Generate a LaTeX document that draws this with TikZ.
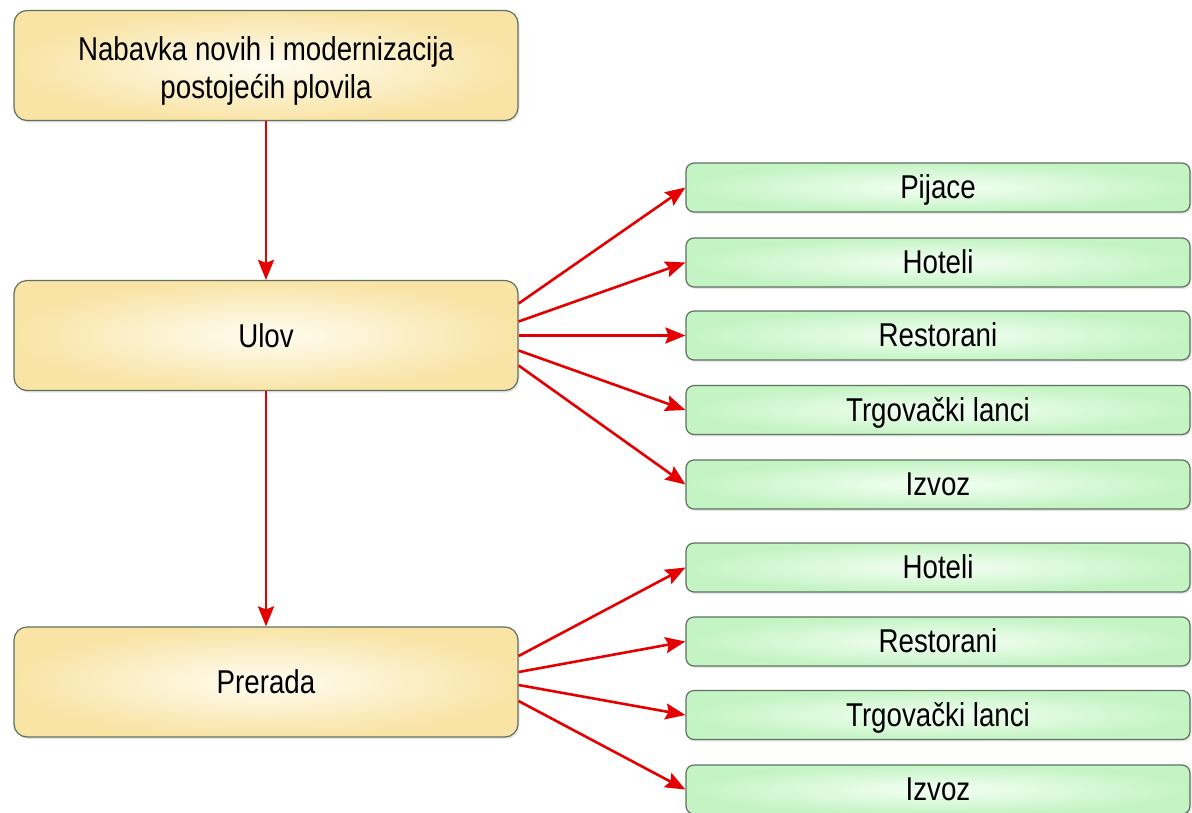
\documentclass[tikz,border=0pt]{standalone}
\usepackage{fontspec}
\setmainfont{Liberation Sans}[FakeStretch=0.84]
\usetikzlibrary{arrows.meta,shadows}
\definecolor{ybox}{HTML}{F9E4A6}
\definecolor{yin}{HTML}{FFFDF2}
\definecolor{gbox}{HTML}{C4F4C4}
\definecolor{gin}{HTML}{F4FFF4}
\definecolor{bord}{HTML}{5E715F}
\definecolor{arr}{HTML}{E40000}
\tikzset{
  ybx/.style={rectangle, rounded corners=13pt, draw=bord, line width=1.2pt,
    shade, shading=radial, inner color=yin, outer color=ybox,
    minimum width=504pt, minimum height=110pt, inner sep=0pt, align=center,
    font=\fontsize{33}{38}\selectfont,
    drop shadow={opacity=0.18, shadow xshift=1.5pt, shadow yshift=-2pt}},
  gbx/.style={rectangle, rounded corners=8pt, draw=bord, line width=1.2pt,
    shade, shading=radial, inner color=gin, outer color=gbox,
    minimum width=504pt, minimum height=49pt, inner sep=0pt,
    text height=23pt, text depth=1pt,
    font=\fontsize{33}{38}\selectfont,
    drop shadow={opacity=0.18, shadow xshift=1.5pt, shadow yshift=-2pt}},
  txt/.style={inner sep=0pt, align=center, font=\fontsize{33}{38}\selectfont},
  conn/.style={draw=arr, line width=2.6pt, -{Stealth[length=20pt,width=16pt,inset=3pt]}}
}
\begin{document}
\begin{tikzpicture}[x=1pt,y=-1pt]
\useasboundingbox (0,0) rectangle (1192,812);
\node[ybx] (top) at (266,65.5) {};
\node[txt] (topt) at ([yshift=-5pt]top.center) {Nabavka novih i modernizacija\\postojećih plovila};
\node[ybx] (ulov) at (266,335.5) {Ulov};
\node[ybx] (prer) at (266,682) {Prerada};
\node[gbx] (g1) at (938,187.5) {Pijace};
\node[gbx] (g2) at (938,262.5) {Hoteli};
\node[gbx] (g3) at (938,335.5) {Restorani};
\node[gbx] (g4) at (938,410) {Trgovački lanci};
\node[gbx] (g5) at (938,484.5) {Izvoz};
\node[gbx] (h1) at (938,567.5) {Hoteli};
\node[gbx] (h2) at (938,641.5) {Restorani};
\node[gbx] (h3) at (938,715) {Trgovački lanci};
\node[gbx] (h4) at (938,789.5) {Izvoz};
\draw[conn] (top.south) -- (ulov.north);
\draw[conn] (ulov.south) -- (prer.north);
\draw[conn] ([yshift=32pt]ulov.east) -- (g1.west);
\draw[conn] ([yshift=14pt]ulov.east) -- (g2.west);
\draw[conn] ([yshift=0pt]ulov.east) -- (g3.west);
\draw[conn] ([yshift=-15pt]ulov.east) -- (g4.west);
\draw[conn] ([yshift=-30pt]ulov.east) -- (g5.west);
\draw[conn] ([yshift=26pt]prer.east) -- (h1.west);
\draw[conn] ([yshift=10pt]prer.east) -- (h2.west);
\draw[conn] ([yshift=-3pt]prer.east) -- (h3.west);
\draw[conn] ([yshift=-19pt]prer.east) -- (h4.west);
\end{tikzpicture}
\end{document}
